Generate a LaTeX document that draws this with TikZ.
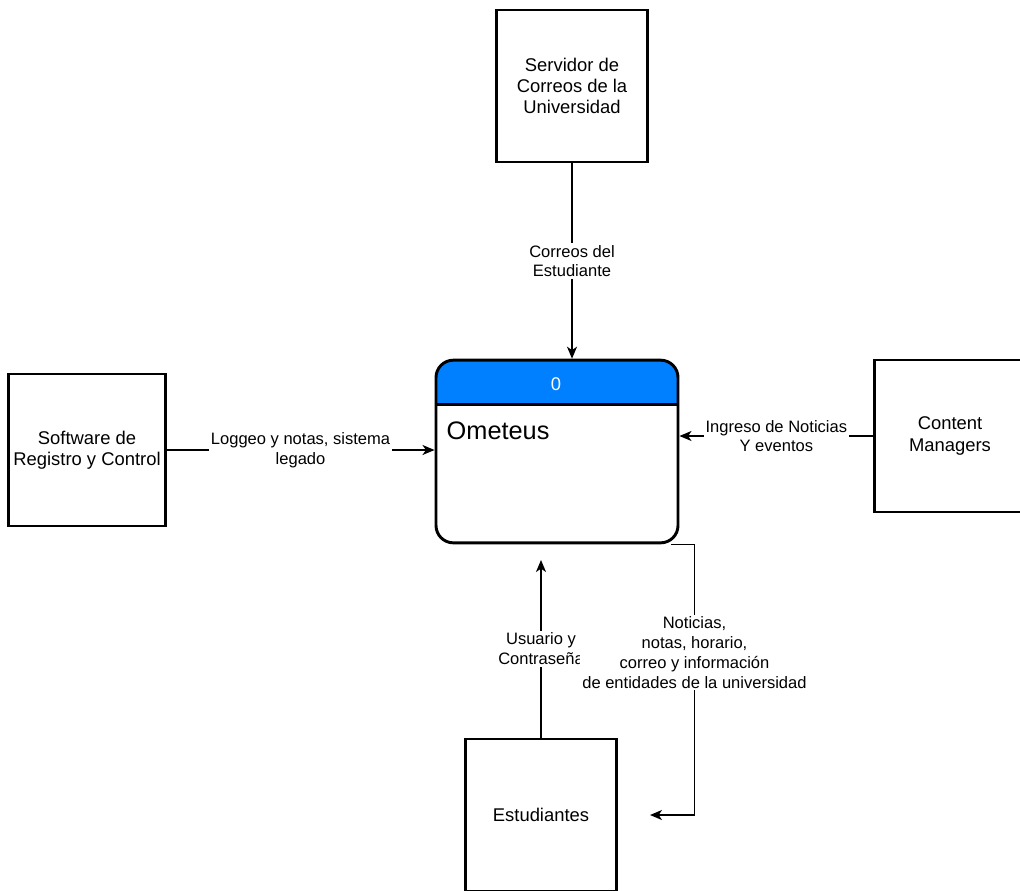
\documentclass[tikz,border=0pt]{standalone}
\usepackage{fontspec}
\setmainfont{Liberation Sans}
\usetikzlibrary{arrows.meta}
\definecolor{procblue}{RGB}{0,127,255}

\begin{document}
\begin{tikzpicture}[x=0.75pt, y=-0.75pt,
    ext/.style={draw, line width=2.2pt, minimum width=113pt, minimum height=114pt,
      align=center, font=\fontsize{13.8}{16}\selectfont},
    procbox/.style={draw, line width=2.2pt, rounded corners=13pt,
      minimum width=181.5pt, minimum height=137pt,
      path picture={\fill[procblue, sharp corners] (path picture bounding box.north west)
        rectangle ([yshift=-34.5pt]path picture bounding box.north east);}},
    flow/.style={line width=1.1pt, -{Stealth[length=9pt,width=7.5pt,inset=2.5pt]}},
    lbl/.style={fill=white, align=center, inner sep=1.5pt,
      font=\fontsize{12.4}{14.8}\selectfont}]
  \useasboundingbox (0,0) rectangle (1020,890);

  % external entities
  \node[ext] (srv) at (572,86) {Servidor de\\Correos de la\\Universidad};
  \node[ext] (reg) at (87,450) {Software de\\Registro y Control};
  \node[ext] (cm) at (950,436) {Content\\Managers};
  \node[ext] (est) at (541,815) {Estudiantes};

  % process
  \node[procbox] (proc) at (557,451.5) {};
  \draw[line width=2pt] ([yshift=-34.5pt]proc.north west) -- ([yshift=-34.5pt]proc.north east);
  \node[text=white, font=\fontsize{13.8}{16}\selectfont] (num) at (556,384) {0};
  \node[anchor=west, font=\fontsize{19}{22}\selectfont] (name) at (442,431) {Ometeus};

  % flows
  \draw[flow] (srv.south) -- (srv.south |- proc.north) node[lbl, midway] {Correos del\\Estudiante};
  \draw[flow] (reg.east) -- (reg.east -| proc.west) node[lbl, midway] {Loggeo y notas, sistema\\legado};
  \draw[flow] (cm.west) -- (cm.west -| proc.east) node[lbl, midway] {Ingreso de Noticias\\Y eventos};
  \coordinate (usr) at (541,560);
  \draw[flow] (est.north) -- (usr) node[lbl, midway] {Usuario y\\Contraseña};
  \coordinate (ntc) at (650,815);
  \draw[flow] ([xshift=-6pt]proc.south east) -- ++(23,0) |- (ntc)
    node[lbl, pos=0.2] {Noticias,\\notas, horario,\\correo y información\\de entidades de la universidad};
\end{tikzpicture}
\end{document}
